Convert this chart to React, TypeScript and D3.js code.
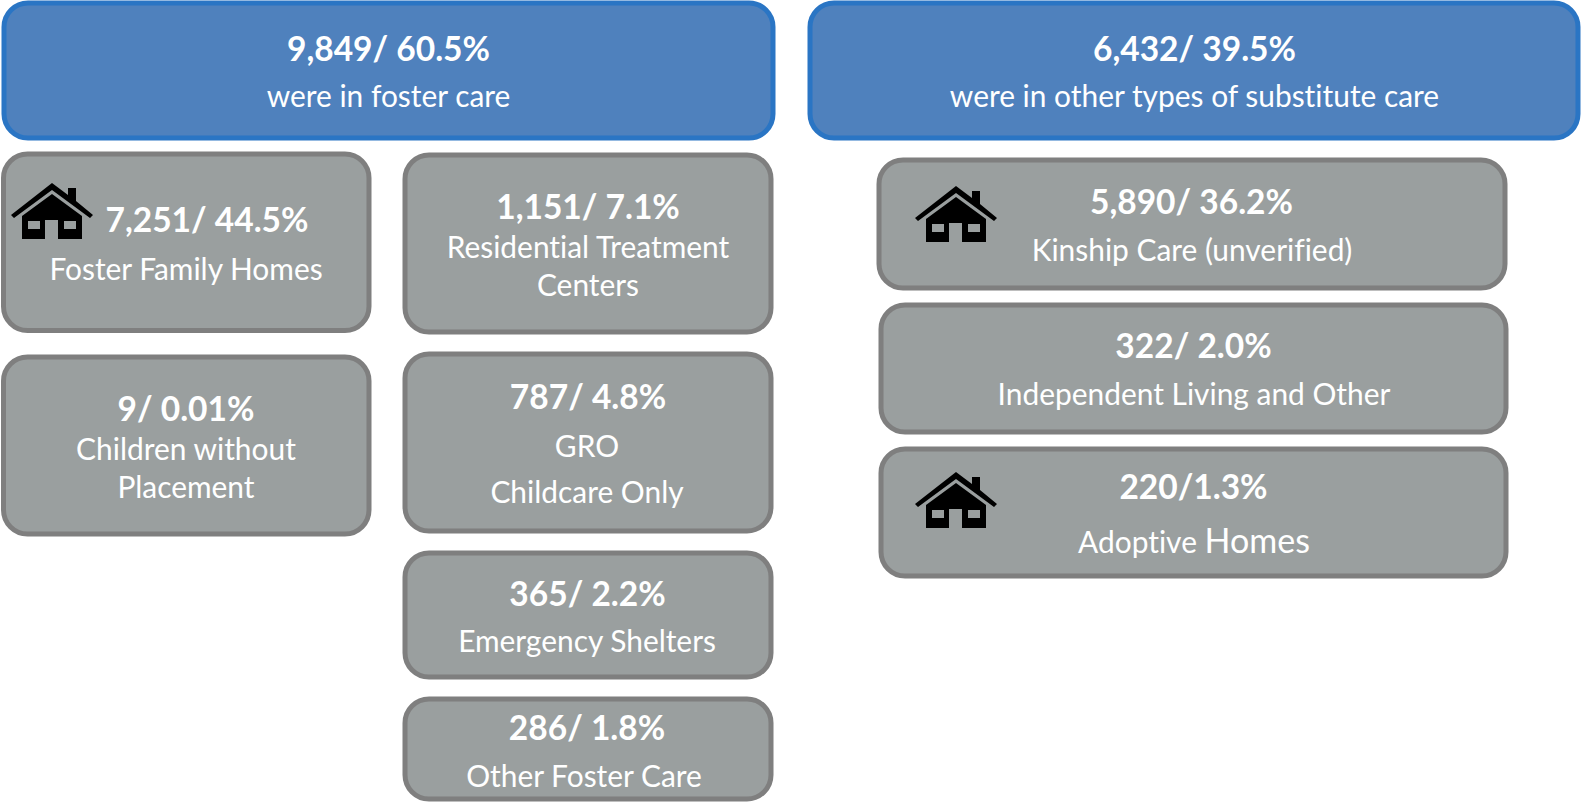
import React, { useEffect, useRef } from "react";
import * as d3 from "d3";

// values
const headlines = ["9,849/ 60.5%", "6,432/ 39.5%"];
const headlineLabels = ["were in foster care", "were in other types of substitute care"];

const cardValues = [
  "7,251/ 44.5%",
  "9/ 0.01%",
  "1,151/ 7.1%",
  "787/ 4.8%",
  "365/ 2.2%",
  "286/ 1.8%",
  "5,890/ 36.2%",
  "322/ 2.0%",
  "220/1.3%",
];
const cardLabels = [
  ["Foster Family Homes"],
  ["Children without", "Placement"],
  ["Residential Treatment", "Centers"],
  ["GRO", "Childcare Only"],
  ["Emergency Shelters"],
  ["Other Foster Care"],
  ["Kinship Care (unverified)"],
  ["Independent Living and Other"],
  ["Adoptive"],
];
// last card: the second word is set larger in the original
const bigWord = { card: 8, text: "Homes" };

// layout: x0, x1, y0, y1 of each box
const headBoxes = [
  [4, 773, 3, 138],
  [810, 1578, 3, 138],
];
const cardBoxes = [
  [3.5, 369, 154, 330.5],
  [3.5, 369, 357, 534],
  [405, 771, 155, 332],
  [405, 771, 354, 531],
  [405, 771, 553, 677],
  [405, 771, 699, 799],
  [879, 1505, 160, 288],
  [881, 1506, 305, 432],
  [881, 1506, 449, 576],
];
// text centre x and baselines: value line, then label lines
const headText = [
  [388.5, 61, 107],
  [1194.5, 61, 107],
];
const cardText = [
  [207, 232, 280],
  [186, 421, 460, 498],
  [588, 219, 258, 296],
  [588, 409, 457, 503],
  [587.5, 606, 652],
  [587, 740, 787],
  [1191.5, 214, 261],
  [1193.5, 358, 405],
  [1193.5, 499, 553],
];
const cardLabelX = [186, 186, 588, 587, 587, 584, 1192, 1194, 1194];
const houseAt = [
  [52, 183],
  [956, 186],
  [956, 472],
];

const FONT = "Lato, Carlito, sans-serif";
const VALUE_SIZE = 33.5;
const LABEL_SIZE = 29.9;
const HOUSE =
  "M0,0 L16,12 L16,5 L24,5 L24,18 L41,32 L38,35 L0,7 L-38,35 L-41,32 Z " +
  "M0,11 L30,33 L30,56 L6,56 L6,37 L-7,37 L-7,56 L-30,56 L-30,33 Z " +
  "M-24,38 L-24,46 L-12,46 L-12,38 Z M12,38 L12,46 L24,46 L24,38 Z";

const App = () => {
  const svgRef = useRef<SVGSVGElement>(null);

  useEffect(() => {
    const svg = d3.select(svgRef.current);
    svg.selectAll("*").remove();
    svg
      .attr("font-family", FONT)
      .attr("fill", "#fff")
      .style("font-variant-ligatures", "none");

    function box(b: number[], fill: string, stroke: string) {
      svg
        .append("rect")
        .attr("x", b[0])
        .attr("y", b[2])
        .attr("width", b[1] - b[0])
        .attr("height", b[3] - b[2])
        .attr("rx", 24)
        .attr("fill", fill)
        .attr("stroke", stroke)
        .attr("stroke-width", 5);
    }

    function line(txt: string, x: number, y: number, size: number, weight: number) {
      return svg
        .append("text")
        .attr("x", x)
        .attr("y", y)
        .attr("text-anchor", "middle")
        .attr("font-size", size)
        .attr("font-weight", weight)
        .text(txt);
    }

    headBoxes.forEach((b, i) => {
      box(b, "#4f81bd", "#2a75c4");
      line(headlines[i], headText[i][0], headText[i][1], VALUE_SIZE, 700);
      line(headlineLabels[i], headText[i][0], headText[i][2], LABEL_SIZE, 400);
    });

    cardBoxes.forEach((b, i) => {
      box(b, "#9a9f9f", "#7f7f7f");
      const t = cardText[i];
      line(cardValues[i], t[0], t[1], VALUE_SIZE, 700);
      cardLabels[i].forEach((l, j) => {
        const label = line(l + " ", cardLabelX[i], t[j + 2], LABEL_SIZE, 400);
        if (i === bigWord.card) {
          label.style("white-space", "pre");
          label.append("tspan").attr("font-size", 34).text(bigWord.text);
        }
      });
    });

    houseAt.forEach((h) => {
      svg
        .append("path")
        .attr("d", HOUSE)
        .attr("transform", `translate(${h[0]},${h[1]})`)
        .attr("fill", "#000")
        .attr("fill-rule", "evenodd");
    });
  }, []);

  return (
    <svg
      ref={svgRef}
      width={1581}
      height={803}
      style={{ position: "absolute", left: 0, top: 0, background: "#fff" }}
    />
  );
};

export default App;
